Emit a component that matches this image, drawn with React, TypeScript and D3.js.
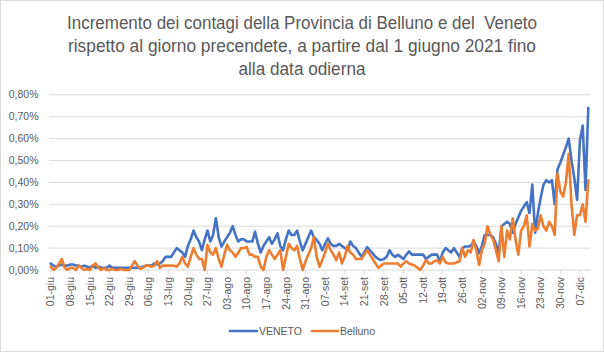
import React from "react";
import * as d3 from "d3";

const titleLines = [
  "Incremento dei contagi della Provincia di Belluno e del  Veneto",
  "rispetto al giorno precendete, a partire dal 1 giugno 2021 fino",
  "alla data odierna",
];

const tickLabels = [
  "01-giu", "08-giu", "15-giu", "22-giu", "29-giu", "06-lug", "13-lug", "20-lug", "27-lug",
  "03-ago", "10-ago", "17-ago", "24-ago", "31-ago", "07-set", "14-set", "21-set", "28-set",
  "05-ott", "12-ott", "19-ott", "26-ott", "02-nov", "09-nov", "16-nov", "23-nov", "30-nov", "07-dic",
];

const yTicks = [0, 0.1, 0.2, 0.3, 0.4, 0.5, 0.6, 0.7, 0.8];

const veneto = [
  0.03, 0.02, 0.015, 0.02, 0.025, 0.02, 0.02,
  0.025, 0.025, 0.02, 0.02, 0.015, 0.02, 0.015,
  0.01, 0.02, 0.01, 0.015, 0.01, 0.01, 0.01,
  0.02, 0.01, 0.01, 0.01, 0.01, 0.01, 0.01,
  0.01, 0.01, 0.01, 0.01, 0.01, 0.015, 0.02,
  0.02, 0.02, 0.03, 0.025, 0.03, 0.04, 0.06,
  0.06, 0.06, 0.08, 0.10, 0.09, 0.08, 0.06,
  0.11, 0.14, 0.18, 0.15, 0.13, 0.09, 0.14,
  0.18, 0.13, 0.16, 0.236, 0.15, 0.107, 0.13,
  0.15, 0.17, 0.20, 0.16, 0.13, 0.14, 0.14,
  0.13, 0.13, 0.13, 0.175, 0.12, 0.08, 0.11,
  0.13, 0.15, 0.12, 0.14, 0.167, 0.11, 0.09,
  0.14, 0.18, 0.16, 0.16, 0.18, 0.13, 0.09,
  0.12, 0.15, 0.18, 0.15, 0.137, 0.12, 0.09,
  0.12, 0.145, 0.12, 0.11, 0.11, 0.12, 0.11,
  0.10, 0.09, 0.13, 0.11, 0.10, 0.08, 0.06,
  0.08, 0.105, 0.09, 0.076, 0.06, 0.05, 0.045,
  0.05, 0.06, 0.09, 0.07, 0.06, 0.07, 0.06,
  0.05, 0.07, 0.085, 0.07, 0.07, 0.07, 0.07,
  0.07, 0.05, 0.06, 0.07, 0.07, 0.07, 0.04,
  0.08, 0.10, 0.09, 0.08, 0.10, 0.08, 0.06,
  0.10, 0.107, 0.107, 0.11, 0.13, 0.11, 0.076,
  0.11, 0.16, 0.16, 0.16, 0.15, 0.12, 0.076,
  0.20, 0.21, 0.22, 0.21, 0.17, 0.21, 0.24,
  0.27, 0.29, 0.31, 0.26, 0.39, 0.17, 0.26,
  0.33, 0.39, 0.41, 0.40, 0.41, 0.30, 0.46,
  0.49, 0.525, 0.56, 0.60, 0.50, 0.42, 0.32,
  0.59, 0.66, 0.365, 0.74,
];

const belluno = [
  0.015, 0.0, 0.01, 0.03, 0.05, 0.01, 0.0,
  0.01, 0.01, 0.0, 0.02, 0.01, 0.0, 0.005,
  0.0, 0.02, 0.03, 0.01, 0.0, 0.01, 0.0,
  0.0, 0.005, 0.0, 0.0, 0.005, 0.0, 0.0,
  0.0, 0.02, 0.04, 0.02, 0.005, 0.01, 0.02,
  0.02, 0.015, 0.02, 0.04, 0.01, 0.02, 0.02,
  0.02, 0.02, 0.02, 0.015, 0.03, 0.06, 0.03,
  0.015, 0.06, 0.10, 0.07, 0.05, 0.05, 0.0,
  0.115, 0.08, 0.07, 0.10, 0.05, 0.015, 0.07,
  0.115, 0.09, 0.08, 0.06, 0.08, 0.10, 0.10,
  0.105, 0.07, 0.07, 0.06, 0.06, 0.015, 0.0,
  0.06, 0.09, 0.07, 0.05, 0.07, 0.09, 0.0,
  0.06, 0.12, 0.10, 0.09, 0.11, 0.05, 0.0,
  0.04, 0.07, 0.10, 0.15, 0.06, 0.015, 0.045,
  0.08, 0.12, 0.09, 0.07, 0.045, 0.08, 0.03,
  0.06, 0.11, 0.08, 0.07, 0.05, 0.05, 0.05,
  0.07, 0.09, 0.07, 0.05, 0.03, 0.01, 0.02,
  0.03, 0.03, 0.03, 0.03, 0.03, 0.03, 0.015,
  0.03, 0.04, 0.03, 0.025, 0.02, 0.01, 0.0,
  0.02, 0.045, 0.03, 0.03, 0.04, 0.045, 0.03,
  0.06, 0.035, 0.03, 0.03, 0.03, 0.035, 0.04,
  0.10, 0.06, 0.09, 0.08, 0.137, 0.09, 0.023,
  0.09, 0.12, 0.20, 0.16, 0.14, 0.09, 0.04,
  0.20, 0.06, 0.18, 0.14, 0.236, 0.14, 0.07,
  0.18, 0.20, 0.25, 0.107, 0.21, 0.18, 0.19,
  0.25, 0.20, 0.18, 0.22, 0.20, 0.16, 0.44,
  0.36, 0.335, 0.40, 0.53, 0.30, 0.16, 0.25,
  0.25, 0.30, 0.22, 0.41,
];

const W = 604;
const H = 352;
const BLUE = "#4472C4";
const ORANGE = "#ED7D31";
const TXT = "#595959";
const GRID = "#d9d9d9";
const FONT = "'Liberation Sans', Arial, sans-serif";

export default function App() {
  const x = d3.scaleLinear().domain([0, veneto.length - 1]).range([50.7, 588.3]);
  const y = d3.scaleLinear().domain([0, 0.8]).range([270, 94.8]);
  const line = d3
    .line<number>()
    .x((_, i) => x(i))
    .y((d) => y(d))
    .curve(d3.curveLinear);
  const fmt = (v: number) => v.toFixed(2).replace(".", ",") + "%";
  const titleWidths = [470, 468, 127];

  return (
    <svg
      width={W}
      height={H}
      style={{ position: "absolute", left: 0, top: 0, background: "#fff" }}
      fontFamily={FONT}
    >
      <rect x={0.5} y={0.5} width={W - 1} height={H - 1} fill="#fff" stroke={GRID} />
      {titleLines.map((t, i) => (
        <text
          key={i}
          x={W / 2}
          y={29 + i * 23}
          textAnchor="middle"
          fontSize={17.5}
          fill={TXT}
          textLength={titleWidths[i]}
          lengthAdjust="spacingAndGlyphs"
          style={{ whiteSpace: "pre" }}
        >
          {t}
        </text>
      ))}
      {yTicks.map((t) => (
        <g key={t}>
          {t > 0 && (
            <line x1={49} x2={590} y1={y(t)} y2={y(t)} stroke={GRID} strokeWidth={1} />
          )}
          <text x={38.5} y={y(t)} dy="0.35em" textAnchor="end" fontSize={10.5} fill={TXT}>
            {fmt(t)}
          </text>
        </g>
      ))}
      <line x1={49} x2={590} y1={y(0)} y2={y(0)} stroke={GRID} strokeWidth={1} />
      {tickLabels.map((lab, i) => {
        const xx = x(i * 7);
        return (
          <g key={lab}>
            <line x1={xx} x2={xx} y1={y(0)} y2={y(0) + 4} stroke={GRID} />
            <text
              transform={`translate(${xx},${277}) rotate(-90)`}
              textAnchor="end"
              dy="0.35em"
              fontSize={10.5}
              fill={TXT}
            >
              {lab}
            </text>
          </g>
        );
      })}
      <path d={line(veneto) || ""} fill="none" stroke={BLUE} strokeWidth={2.6} strokeLinejoin="round" strokeLinecap="round" />
      <path d={line(belluno) || ""} fill="none" stroke={ORANGE} strokeWidth={2.6} strokeLinejoin="round" strokeLinecap="round" />
      <g>
        <line x1={230} x2={257} y1={331} y2={331} stroke={BLUE} strokeWidth={2.6} strokeLinecap="round" />
        <text x={259} y={331} dy="0.35em" fontSize={10.5} fill={TXT}>VENETO</text>
        <line x1={312} x2={338} y1={331} y2={331} stroke={ORANGE} strokeWidth={2.6} strokeLinecap="round" />
        <text x={340} y={331} dy="0.35em" fontSize={10.5} fill={TXT}>Belluno</text>
      </g>
    </svg>
  );
}
